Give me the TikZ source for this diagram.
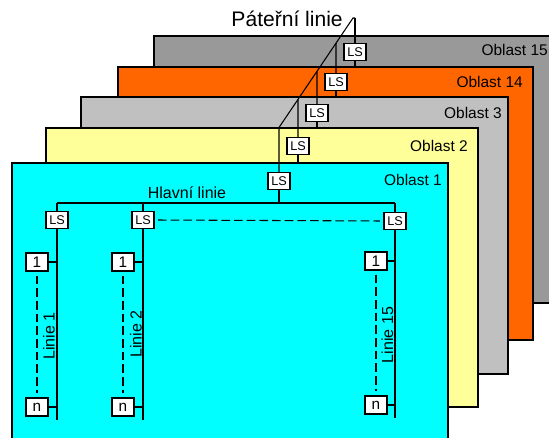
\documentclass[tikz,border=0pt]{standalone}
\usepackage{fontspec}
\setmainfont{Liberation Sans}
\usetikzlibrary{calc}
\definecolor{c15}{HTML}{999999}
\definecolor{c14}{HTML}{FF6600}
\definecolor{c3}{HTML}{C0C0C0}
\definecolor{c2}{HTML}{FFFF99}
\definecolor{c1}{HTML}{00FFFF}
\tikzset{
  area/.style={draw=black, line width=2.2pt},
  lsbox/.style={draw=black, fill=white, line width=1.1pt, minimum width=16.5pt, minimum height=12.75pt, inner sep=0pt, font=\fontsize{9.5}{10}\selectfont},
  devbox/.style={draw=black, fill=white, line width=1.1pt, minimum width=16.5pt, minimum height=13.5pt, inner sep=0pt, font=\fontsize{11.5}{12}\selectfont},
  wire/.style={draw=black, line width=0.8pt},
  dwire/.style={draw=black, line width=0.8pt, dash pattern=on 6.5pt off 3pt},
  arealabel/.style={anchor=base east, inner sep=0pt, font=\fontsize{11.6}{13}\selectfont},
  linelabel/.style={anchor=base, rotate=90, inner sep=0pt, font=\fontsize{12}{13}\selectfont},
}
\begin{document}
\begin{tikzpicture}[x=0.75pt, y=-0.75pt]
\useasboundingbox (0,0) rectangle (549,438);
\clip (0,0) rectangle (549,438);
% backbone geometry
\coordinate (apex) at (355,18);
\coordinate (apexL) at (353,18);
\coordinate (bbend) at (279,127.5);
% ---- Oblast 15
\path[area, fill=c15] (154,36) rectangle (556,303);
\node[arealabel] (o15) at (548,56) {Oblast 15};
\node[lsbox] (ls15) at (355,52) {LS};
\draw[wire] (apex) -- (ls15.north);
\draw[wire] (ls15.south) -- (355,80);
% ---- Oblast 14
\path[area, fill=c14] (118,67) rectangle (533,340);
\node[arealabel] (o14) at (523,88) {Oblast 14};
\node[lsbox] (ls14) at (336,82) {LS};
\coordinate (x14) at (intersection of apexL--bbend and ls14.north--ls14.center);
\draw[wire] (x14) -- (ls14.north);
\draw[wire] (ls14.south) -- (336,110);
% ---- Oblast 3
\path[area, fill=c3] (81,97) rectangle (508,374);
\node[arealabel] (o3) at (502,119) {Oblast 3};
\node[lsbox] (ls3) at (317,113) {LS};
\coordinate (x3) at (intersection of apexL--bbend and ls3.north--ls3.center);
\draw[wire] (x3) -- (ls3.north);
\draw[wire] (ls3.south) -- (317,140);
% ---- Oblast 2
\path[area, fill=c2] (46,128) rectangle (478,407);
\node[arealabel] (o2) at (468,152) {Oblast 2};
\node[lsbox] (ls2) at (298,146) {LS};
\coordinate (x2) at (intersection of apexL--bbend and ls2.north--ls2.center);
\draw[wire] (x2) -- (ls2.north);
\draw[wire] (ls2.south) -- (298,175);
% ---- Oblast 1
\path[area, fill=c1] (12,163) rectangle (448,460);
\node[arealabel] (o1) at (442,186) {Oblast 1};
\node[lsbox] (ls1) at (279,181) {LS};
% backbone
\node[anchor=base east, inner sep=0pt, font=\fontsize{15.8}{17}\selectfont] (pl) at (343,27) {Páteřní linie};
\draw[wire] (apex) -- (apexL) -- (bbend) -- (ls1.north);
% main line
\coordinate (hA) at (57,203);
\coordinate (hB) at (143,203);
\coordinate (hM) at (279,203);
\coordinate (hC) at (395,203);
\node[anchor=base, inner sep=0pt, font=\fontsize{12}{13}\selectfont] (hl) at (187,199) {Hlavní linie};
\draw[wire] (hA) -- (hC);
\draw[wire] (ls1.south) -- (hM);
\node[lsbox] (lsA) at (57,220) {LS};
\node[lsbox] (lsB) at (143,220) {LS};
\node[lsbox] (lsC) at (395,221) {LS};
\draw[wire] (hA) -- (lsA.north);
\draw[wire] (hB) -- (lsB.north);
\draw[wire] (hC) -- (lsC.north);
\draw[dwire, shorten <=2.5pt, shorten >=2.5pt] (lsB.east) -- (lsC.west);
% line 1
\coordinate (eA) at (57,420);
\draw[wire] (lsA.south) -- (eA);
\node[devbox] (a1) at (37,262) {1};
\node[devbox] (an) at (37,407) {n};
\draw[wire] (a1.east) -- (a1.east -| lsA);
\draw[wire] (an.east) -- (an.east -| lsA);
\draw[dwire, shorten <=3pt, shorten >=3pt] (a1.south) -- (an.north);
\node[linelabel] (tA) at (54.5,336) {Linie 1};
% line 2
\coordinate (eB) at (143,420);
\draw[wire] (lsB.south) -- (eB);
\node[devbox] (b1) at (123,262) {1};
\node[devbox] (bn) at (123,407) {n};
\draw[wire] (b1.east) -- (b1.east -| lsB);
\draw[wire] (bn.east) -- (bn.east -| lsB);
\draw[dwire, shorten <=3pt, shorten >=3pt] (b1.south) -- (bn.north);
\node[linelabel] (tB) at (141.5,334) {Linie 2};
% line 15
\coordinate (eC) at (395,418);
\draw[wire] (lsC.south) -- (eC);
\node[devbox] (c1) at (376,261) {1};
\node[devbox] (cn) at (376,405) {n};
\draw[wire] (c1.east) -- (c1.east -| lsC);
\draw[wire] (cn.east) -- (cn.east -| lsC);
\draw[dwire, shorten <=3pt, shorten >=3pt] (c1.south) -- (cn.north);
\node[linelabel] (tC) at (393,335) {Linie 15};
\end{tikzpicture}
\end{document}
